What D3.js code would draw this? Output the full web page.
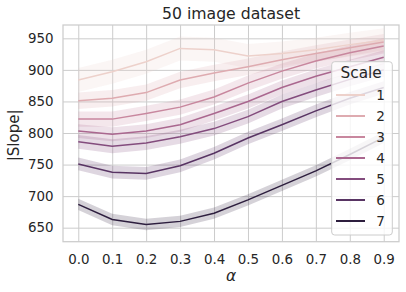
<!DOCTYPE html>
<meta charset="utf-8">
<style>
    body { margin: 0; background: #fff; }
    text { font-family: "DejaVu Sans", sans-serif; fill: #262626; }
    .grid line { stroke: #cccccc; stroke-width: 1px; }
    .grid path { display: none; }
    .tick text { font-size: 13.4px; }
    .band { stroke: none; }
    .line { fill: none; stroke-width: 1.5px; }
</style>
<body>
    <script src="https://d3js.org/d3.v7.min.js"></script>
    <script>

        // data
        var alphas = [0.0, 0.1, 0.2, 0.3, 0.4, 0.5, 0.6, 0.7, 0.8, 0.9];
        var scales = [1, 2, 3, 4, 5, 6, 7];
        var slope1 = [884, 897, 913, 934, 932, 922, 926, 932, 940, 947];
        var slope2 = [851, 855, 864, 884, 895, 905, 916, 926, 935, 944];
        var slope3 = [822, 822, 831, 841, 857, 879, 898, 914, 927, 938];
        var slope4 = [803, 798, 803, 813, 831, 850, 872, 890, 905, 920];
        var slope5 = [786, 779, 784, 794, 807, 826, 850, 868, 885, 900];
        var slope6 = [751, 738, 736, 748, 768, 792, 813, 835, 855, 872];
        var slope7 = [687, 663, 655, 660, 673, 694, 717, 740, 766, 793];
        // half width of the confidence band, per scale
        var ciHalf = [19, 13, 12, 11, 11, 10, 9];
        var yTicks = [650, 700, 750, 800, 850, 900, 950];
        var colors = ["#edd1cb", "#deabb0", "#c8879e", "#aa678f", "#834c7d", "#583463", "#2d1e3e"];

        var allSlopes = [slope1, slope2, slope3, slope4, slope5, slope6, slope7];

        // set the dimensions and margins of the graph
        var margin = { top: 25, right: 7, bottom: 50.3, left: 63 }
          , width = 406 - margin.left - margin.right
          , height = 292 - margin.top - margin.bottom;

        var x = d3.scaleLinear().domain([-0.045, 0.945]).range([0, width]);
        var y = d3.scaleLinear().domain([627.8, 971.1]).range([height, 0]);

        var svg = d3.select("body").append("svg").attr("width", 406).attr("height", 292);
        var g = svg.append("g").attr("transform", "translate(" + margin.left + "," + margin.top + ")");

        // grid + x axis
        g.append("g").attr("class", "grid").attr("transform", "translate(0," + height + ")")
            .call(d3.axisBottom(x).tickValues(alphas).tickFormat(d3.format(".1f")).tickSizeInner(-height).tickSizeOuter(0).tickPadding(12.4));

        // grid + y axis
        g.append("g").attr("class", "grid")
            .call(d3.axisLeft(y).tickValues(yTicks).tickSizeInner(-width).tickSizeOuter(0).tickPadding(9.5));

        g.selectAll(".tick text").style("fill", "#262626");

        // frame
        g.append("rect").attr("width", width).attr("height", height)
            .attr("fill", "none").attr("stroke", "#cccccc").attr("stroke-width", 1.25);

        // build series
        var series = scales.map(function(s, i) {
            return {
                scale: s,
                color: colors[i],
                values: alphas.map(function(a, j) {
                    return { a: a, v: allSlopes[i][j], lo: allSlopes[i][j] - ciHalf[i], hi: allSlopes[i][j] + ciHalf[i] };
                })
            };
        });

        var area = d3.area()
            .x(function(d) { return x(d.a); })
            .y0(function(d) { return y(d.lo); })
            .y1(function(d) { return y(d.hi); });

        var line = d3.line()
            .x(function(d) { return x(d.a); })
            .y(function(d) { return y(d.v); });

        // bands first, lines on top
        g.selectAll(".band").data(series).enter().append("path")
            .attr("class", "band")
            .attr("fill", function(d) { return d.color; })
            .attr("fill-opacity", 0.2)
            .attr("d", function(d) { return area(d.values); });

        g.selectAll(".line").data(series).enter().append("path")
            .attr("class", "line")
            .attr("stroke", function(d) { return d.color; })
            .attr("d", function(d) { return line(d.values); });

        // title and labels
        svg.append("text").text("50 image dataset")
            .attr("x", margin.left + width / 2).attr("y", 18.5)
            .attr("text-anchor", "middle").style("font-size", "15.7px");

        svg.append("text").text("α")
            .attr("x", margin.left + width / 2).attr("y", 281)
            .attr("text-anchor", "middle").style("font-size", "15.5px").style("font-style", "italic");

        svg.append("text").text("|Slope|")
            .attr("transform", "translate(18.5," + (margin.top + height / 2 + 2) + ") rotate(-90)")
            .attr("text-anchor", "middle").style("font-size", "15px");

        // legend
        var legend = svg.append("g").attr("transform", "translate(331.7,61.7)");
        legend.append("rect").attr("width", 60.6).attr("height", 173.3).attr("rx", 3)
            .attr("fill", "#fff").attr("fill-opacity", 0.8)
            .attr("stroke", "#cccccc").attr("stroke-width", 1);
        legend.append("text").text("Scale").attr("x", 29.5).attr("y", 16.3)
            .attr("text-anchor", "middle").style("font-size", "15.3px");

        var item = legend.selectAll(".item").data(series).enter().append("g")
            .attr("class", "item")
            .attr("transform", function(d, i) { return "translate(0," + (33.3 + i * 21) + ")"; });
        item.append("line").attr("x1", 4.3).attr("x2", 33.3)
            .attr("stroke", function(d) { return d.color; }).attr("stroke-width", 2);
        item.append("text").text(function(d) { return d.scale; })
            .attr("x", 44.5).attr("y", 4.9).style("font-size", "13.6px");

    </script>
</body>
